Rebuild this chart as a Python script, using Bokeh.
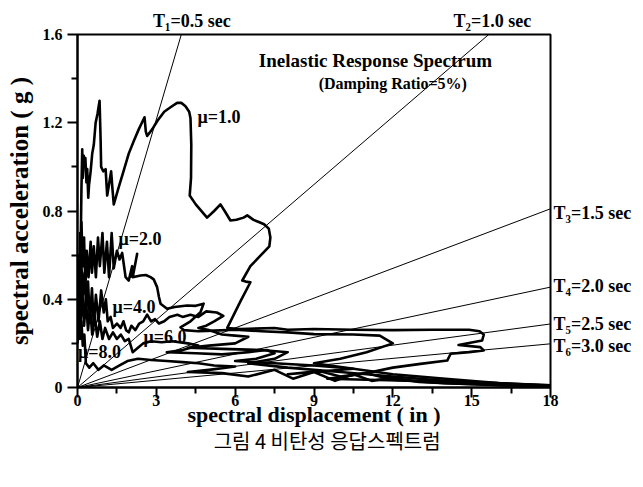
from bokeh.plotting import figure
from bokeh.models import Range1d, FixedTicker, Label, LinearAxis
from bokeh.embed import file_html
from bokeh.resources import INLINE

# ---------------- data ----------------
x_ticks = [0, 3, 6, 9, 12, 15, 18]
x_minor = [1.5, 4.5, 7.5, 10.5, 13.5, 16.5]
y_ticks = [0, 0.4, 0.8, 1.2, 1.6]
y_minor = [0.2, 0.6, 1.0, 1.4]

period_labels = ["T\u2081=0.5 sec", "T\u2082=1.0 sec", "T\u2083=1.5 sec",
                 "T\u2084=2.0 sec", "T\u2085=2.5 sec", "T\u2086=3.0 sec"]
period_end_sd = [3.95, 15.65, 18.0, 18.0, 18.0, 18.0]
period_end_sa = [1.6, 1.6, 0.81, 0.455, 0.288, 0.198]

mu_labels = ["\u03bc=1.0", "\u03bc=2.0", "\u03bc=4.0", "\u03bc=6.0", "\u03bc=8.0"]

caption = "그림 4 비탄성 응답스펙트럼"

mu1 = [(0.0, 0.40), (0.05, 0.55), (0.08, 0.48), (0.1, 0.70), (0.12, 0.62), (0.15, 0.90),
       (0.18, 1.08), (0.2, 0.95), (0.24, 1.05), (0.28, 1.00), (0.3, 1.04), (0.34, 0.93),
       (0.37, 0.99), (0.41, 0.86), (0.44, 0.92), (0.5, 0.98), (0.56, 1.06), (0.62, 1.10),
       (0.69, 1.20), (0.76, 1.24), (0.84, 1.30), (0.88, 1.12), (0.9, 1.00), (0.98, 0.98),
       (1.07, 0.99), (1.13, 0.87), (1.2, 0.92), (1.28, 0.98), (1.33, 0.90), (1.38, 0.83),
       (1.55, 0.90), (1.75, 0.98), (1.95, 1.06), (2.15, 1.12), (2.33, 1.17), (2.45, 1.20),
       (2.55, 1.225), (2.6, 1.16), (2.65, 1.14), (2.84, 1.17), (3.05, 1.21), (3.3, 1.25),
       (3.54, 1.27), (3.79, 1.29), (3.95, 1.29), (4.11, 1.275), (4.25, 1.25), (4.3, 1.22),
       (4.33, 1.10), (4.32, 0.95), (4.27, 0.87), (4.5, 0.83), (4.93, 0.77), (5.2, 0.80),
       (5.44, 0.83), (5.6, 0.80), (5.82, 0.757), (6.05, 0.76), (6.32, 0.77), (6.46, 0.78),
       (6.7, 0.76), (6.9, 0.75), (7.1, 0.74), (7.28, 0.72), (7.34, 0.68), (7.3, 0.64),
       (6.58, 0.55), (6.27, 0.485), (6.4, 0.48), (6.58, 0.477), (6.2, 0.39), (5.95, 0.33),
       (5.7, 0.27), (6.2, 0.265), (7.5, 0.27), (8.0, 0.262), (9.0, 0.265), (10.5, 0.262),
       (12.0, 0.26), (13.5, 0.262), (14.9, 0.262), (15.3, 0.255), (15.46, 0.24), (15.4, 0.213),
       (14.5, 0.193), (15.33, 0.183), (15.46, 0.168), (14.9, 0.16), (14.2, 0.153), (14.07, 0.122),
       (13.05, 0.107), (12.0, 0.09), (11.15, 0.069), (10.2, 0.05), (9.5, 0.04), (11.0, 0.035),
       (13.0, 0.03), (15.0, 0.02), (16.5, 0.015), (18.0, 0.01)]

mu2 = [(0.0, 0.35), (0.05, 0.60), (0.1, 0.45), (0.15, 0.75), (0.2, 0.55), (0.25, 0.68),
       (0.3, 0.45), (0.35, 0.62), (0.42, 0.50), (0.5, 0.66), (0.55, 0.52), (0.62, 0.64),
       (0.7, 0.50), (0.78, 0.68), (0.85, 0.55), (0.95, 0.70), (1.02, 0.52), (1.12, 0.66),
       (1.2, 0.50), (1.3, 0.70), (1.38, 0.54), (1.5, 0.62), (1.6, 0.58), (1.7, 0.61),
       (1.76, 0.56), (1.83, 0.50), (1.95, 0.485), (2.08, 0.55), (2.0, 0.50), (2.15, 0.53),
       (2.27, 0.606), (2.1, 0.50), (2.4, 0.508), (2.6, 0.51), (2.78, 0.50), (2.9, 0.49),
       (3.03, 0.455), (3.1, 0.41), (3.16, 0.38), (3.41, 0.357), (3.7, 0.365), (4.17, 0.372),
       (4.5, 0.37), (4.8, 0.38), (4.68, 0.341), (4.3, 0.30), (3.92, 0.273), (4.05, 0.26),
       (4.6, 0.255), (5.19, 0.258), (6.0, 0.262), (7.0, 0.255), (8.0, 0.25), (9.0, 0.242),
       (10.5, 0.24), (11.5, 0.235), (12.0, 0.20), (11.0, 0.16), (10.0, 0.13), (9.0, 0.11),
       (10.5, 0.085), (12.0, 0.06), (14.0, 0.04), (16.0, 0.02), (18.0, 0.01)]

mu4 = [(0.0, 0.30), (0.05, 0.50), (0.1, 0.38), (0.15, 0.55), (0.2, 0.42), (0.27, 0.52),
       (0.33, 0.35), (0.4, 0.48), (0.47, 0.30), (0.55, 0.45), (0.62, 0.28), (0.7, 0.42),
       (0.8, 0.30), (0.9, 0.44), (1.0, 0.34), (1.08, 0.40), (1.15, 0.30), (1.26, 0.32),
       (1.35, 0.27), (1.5, 0.29), (1.64, 0.27), (1.75, 0.30), (1.85, 0.26), (1.95, 0.25),
       (2.05, 0.28), (2.2, 0.26), (2.35, 0.29), (2.5, 0.30), (2.65, 0.33), (2.8, 0.30),
       (2.95, 0.31), (3.1, 0.29), (3.3, 0.30), (3.5, 0.32), (3.8, 0.33), (4.0, 0.32),
       (4.3, 0.33), (4.6, 0.32), (4.9, 0.345), (5.3, 0.34), (5.55, 0.325), (5.2, 0.30),
       (4.9, 0.28), (4.6, 0.27), (5.0, 0.26), (5.5, 0.24), (6.0, 0.235), (6.5, 0.23),
       (6.0, 0.20), (5.0, 0.19), (4.2, 0.18), (5.5, 0.175), (7.0, 0.17), (8.0, 0.16),
       (7.5, 0.13), (6.5, 0.11), (8.0, 0.09), (10.0, 0.07), (12.0, 0.05), (14.0, 0.03),
       (16.0, 0.02), (18.0, 0.008)]

mu6 = [(0.0, 0.25), (0.06, 0.42), (0.12, 0.30), (0.18, 0.45), (0.25, 0.28), (0.32, 0.40),
       (0.4, 0.26), (0.48, 0.36), (0.56, 0.24), (0.65, 0.33), (0.75, 0.23), (0.85, 0.30),
       (0.95, 0.22), (1.05, 0.27), (1.2, 0.22), (1.35, 0.25), (1.5, 0.22), (1.65, 0.24),
       (1.8, 0.21), (1.95, 0.22), (2.1, 0.16), (2.3, 0.18), (2.5, 0.20), (2.8, 0.21),
       (3.2, 0.205), (3.6, 0.21), (4.2, 0.20), (4.6, 0.19), (4.0, 0.17), (3.4, 0.16),
       (4.5, 0.155), (5.5, 0.15), (6.5, 0.16), (7.2, 0.17), (7.5, 0.155), (6.8, 0.13),
       (6.0, 0.12), (7.5, 0.11), (9.0, 0.10), (10.5, 0.085), (9.0, 0.07), (8.0, 0.06),
       (9.2, 0.075), (10.0, 0.05), (11.0, 0.065), (12.0, 0.035), (14.0, 0.02), (16.0, 0.012),
       (18.0, 0.006)]

mu8 = [(0.0, 0.20), (0.05, 0.33), (0.1, 0.22), (0.15, 0.30), (0.2, 0.19), (0.26, 0.24),
       (0.32, 0.11), (0.45, 0.09), (0.6, 0.11), (0.8, 0.08), (1.0, 0.10), (1.3, 0.08),
       (1.6, 0.10), (1.9, 0.12), (2.3, 0.13), (2.8, 0.125), (3.4, 0.12), (4.0, 0.115),
       (4.6, 0.11), (5.2, 0.10), (6.0, 0.095), (5.0, 0.08), (4.2, 0.07), (5.5, 0.065),
       (6.5, 0.05), (7.5, 0.08), (8.2, 0.04), (9.0, 0.07), (9.8, 0.03), (10.5, 0.06),
       (11.2, 0.03), (12.0, 0.045), (13.0, 0.025), (14.0, 0.02), (16.0, 0.01), (18.0, 0.004)]

curves = [mu1, mu2, mu4, mu6, mu8]

# ---------------- figure ----------------
SERIF = "Liberation Serif"
p = figure(width=643, height=487, output_backend="svg", toolbar_location=None,
           x_range=Range1d(0, 18), y_range=Range1d(0, 1.6),
           min_border_left=77, min_border_right=93, min_border_top=34, min_border_bottom=100)
p.grid.visible = False
p.outline_line_color = "black"
p.outline_line_width = 2
p.background_fill_color = "white"
p.border_fill_color = "white"

for ax in (p.xaxis[0], p.yaxis[0]):
    ax.axis_line_width = 2
    ax.major_tick_line_width = 2
    ax.minor_tick_line_width = 2
    ax.major_tick_out = 10
    ax.major_tick_in = 0
    ax.minor_tick_out = 6
    ax.minor_tick_in = 0
    ax.major_label_text_font = SERIF
    ax.major_label_text_font_style = "bold"
    ax.major_label_text_font_size = "16px"
    ax.major_label_text_color = "black"
    ax.axis_label_text_font = SERIF
    ax.axis_label_text_font_style = "bold"
    ax.axis_label_text_color = "black"

p.xaxis.ticker = FixedTicker(ticks=x_ticks, minor_ticks=x_minor)
p.yaxis.ticker = FixedTicker(ticks=y_ticks, minor_ticks=y_minor)
p.xaxis.major_label_overrides = {t: str(t) for t in x_ticks}
p.yaxis.major_label_overrides = {0: "0", 0.4: "0.4", 0.8: "0.8", 1.2: "1.2", 1.6: "1.6"}
p.xaxis.axis_label = "spectral displacement ( in )"
p.yaxis.axis_label = "spectral acceleration ( g )"
p.xaxis.axis_label_text_font_size = "22px"
p.yaxis.axis_label_text_font_size = "25px"
p.xaxis.major_label_standoff = -3
p.yaxis.major_label_standoff = 5
p.xaxis.axis_label_standoff = -7
p.yaxis.axis_label_standoff = 7


def label_axis(side, ticks, labels, font=SERIF, size="18px", style="bold", standoff=3):
    ax = LinearAxis(ticker=FixedTicker(ticks=ticks, minor_ticks=[]),
                    major_label_overrides=dict(zip(ticks, labels)),
                    axis_line_color=None, major_tick_line_color=None,
                    minor_tick_line_color=None, major_tick_out=0, major_tick_in=0,
                    major_label_standoff=standoff, major_label_text_font=font,
                    major_label_text_font_style=style, major_label_text_font_size=size,
                    major_label_text_color="black")
    p.add_layout(ax, side)
    return ax


# period labels placed on label-only axes
label_axis("above", [4.35, 15.79], period_labels[:2], standoff=4)
label_axis("right", [0.793, 0.462, 0.29, 0.19], period_labels[2:], standoff=3)
# caption on an extra bottom axis
label_axis("below", [9.5], [caption], font="Noto Sans CJK KR", size="20px",
           style="normal", standoff=-4)

# period lines
p.segment(x0=[0] * len(period_end_sd), y0=[0] * len(period_end_sd),
          x1=period_end_sd, y1=period_end_sa, line_color="black", line_width=1)

# spectra
for c in curves:
    p.line([pt[0] for pt in c], [pt[1] for pt in c], line_color="black",
           line_width=2.6, line_join="round")


def add_label(x, y, text, size="18px", align="left", baseline="middle"):
    p.add_layout(Label(x=x, y=y, text=text, text_font=SERIF, text_font_style="bold",
                       text_font_size=size, text_align=align, text_baseline=baseline,
                       text_color="black"))


add_label(11.34, 1.482, "Inelastic Response Spectrum", size="19px", align="center")
add_label(12.0, 1.378, "(Damping Ratio=5%)", size="16px", align="center")

for txt, (x, y) in zip(mu_labels, [(4.57, 1.224), (1.56, 0.675), (1.33, 0.363),
                                    (2.51, 0.227), (0.02, 0.159)]):
    add_label(x, y, txt)

open("out.html", "w").write(file_html(p, INLINE))
